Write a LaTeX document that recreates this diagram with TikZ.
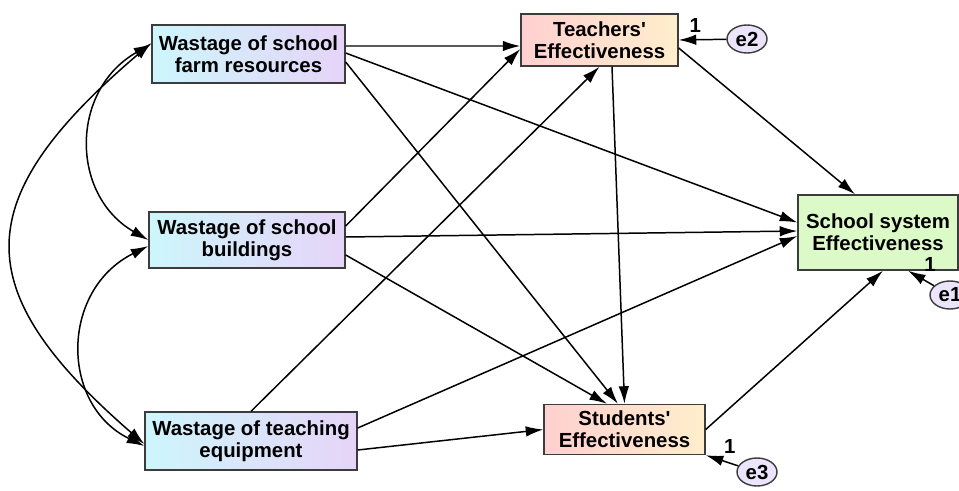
\documentclass[tikz,border=0pt]{standalone}
\usepackage{fontspec}
\setmainfont{Liberation Sans}
\definecolor{wastecyan}{RGB}{205,246,252}
\definecolor{wastelilac}{RGB}{230,212,248}
\definecolor{effpink}{RGB}{255,208,208}
\definecolor{effcream}{RGB}{255,238,204}
\definecolor{sysgreen}{RGB}{220,250,200}
\definecolor{errlilac}{RGB}{236,228,250}
\definecolor{boxline}{RGB}{60,60,60}
\tikzset{every picture/.style={/utils/exec={\fontsize{11.6}{12.5}\selectfont\bfseries}}}
\usetikzlibrary{arrows.meta}
\usetikzlibrary{positioning,shapes.geometric}
\tikzset{
  wastebox/.style={draw=boxline, line width=0.8pt, left color=wastecyan, right color=wastelilac, align=center, inner sep=0pt},
  effbox/.style={draw=boxline, line width=0.8pt, left color=effpink, right color=effcream, align=center, inner sep=0pt},
  sysbox/.style={draw=boxline, line width=0.8pt, fill=sysgreen, align=center, inner sep=0pt},
  errvar/.style={ellipse, draw=boxline, line width=0.8pt, fill=errlilac, minimum width=0.8cm, minimum height=0.56cm, inner sep=0pt},
  effect/.style={-{Latex[length=10pt,width=6pt]}, line width=0.85pt},
  cov/.style={{Latex[length=10pt,width=6pt]}-{Latex[length=10pt,width=6pt]}, line width=0.85pt},
  fixlbl/.style={inner sep=1pt}
}

\begin{document}
\begin{tikzpicture}[x=0.02cm, y=-0.02cm]
  \useasboundingbox (0,0) rectangle (959,490);
  \clip (0,0) rectangle (959,490);

  % exogenous: wastage
  \node[wastebox, minimum width=3.86cm, minimum height=1.16cm] (farm) at (248.5,54) {Wastage of school\\farm resources};
  \node[wastebox, minimum width=3.92cm, minimum height=1.12cm] (build) at (247,240) {Wastage of school\\buildings};
  \node[wastebox, minimum width=4.24cm, minimum height=1.16cm] (equip) at (251,441) {Wastage of teaching\\equipment};

  % endogenous: effectiveness
  \node[effbox, minimum width=3.14cm, minimum height=1.04cm] (teach) at (599.5,40) {Teachers\textquotesingle\\Effectiveness};
  \node[effbox, minimum width=3.22cm, minimum height=1.0cm] (stud) at (624.5,429.5) {Students\textquotesingle\\Effectiveness};
  \node[sysbox, minimum width=3.2cm, minimum height=1.5cm] (sys) at (878,232.5) {School system\\Effectiveness};

  % errors
  \node[errvar] (e2) at (747,39) {e2};
  \node[errvar] (e1) at (950,295) {e1};
  \node[errvar] (e3) at (757,472) {e3};

  % direct effects
  \draw[effect] ([yshift=0.16cm]farm.east) -- ([yshift=-0.12cm]teach.west);
  \draw[effect] ([yshift=0.02cm]farm.east) -- ([yshift=0.2cm]sys.west);
  \draw[effect] ([yshift=-0.16cm]farm.east) -- ([xshift=-0.13cm]stud.north);

  \draw[effect] ([yshift=0.28cm]build.east) -- ([yshift=-0.18cm]teach.west);
  \draw[effect] ([yshift=0.06cm]build.east) -- ([yshift=0.03cm]sys.west);
  \draw[effect] ([yshift=-0.3cm]build.east) -- ([xshift=-0.35cm]stud.north);

  \draw[effect] (equip.north) -- (teach.south);
  \draw[effect] ([yshift=0.26cm]equip.east) -- ([yshift=-0.07cm]sys.west);
  \draw[effect] ([yshift=-0.18cm]equip.east) -- (stud.west);

  \draw[effect] ([xshift=0.25cm]teach.south) -- (stud.north);
  \draw[effect] ([yshift=-0.16cm]teach.east) -- ([xshift=-0.46cm]sys.north);
  \draw[effect] (stud.east) -- ([xshift=0.1cm]sys.south);

  % error terms
  \draw[effect] (e2) -- node[fixlbl, pos=0.65, above=2.8pt] (one2) {1} (teach.east);
  \draw[effect] (e1) -- node[fixlbl, pos=0.15, above=5.3pt] (one1) {1} ([xshift=0.6cm]sys.south);
  \draw[effect] (e3) -- node[fixlbl, pos=0.26, above=4pt] (one3) {1} (stud.south east);

  % covariances
  \draw[cov] ([yshift=0.2cm]farm.west) .. controls (70,90) and (70,195) .. (build.west);
  \draw[cov] ([yshift=-0.12cm]build.west) .. controls (60,290) and (60,405) .. ([yshift=-0.1cm]equip.west);
  \draw[cov] ([yshift=0.22cm]farm.west) .. controls (-33,200) and (-33,290) .. ([yshift=-0.06cm]equip.west);
\end{tikzpicture}
\end{document}
